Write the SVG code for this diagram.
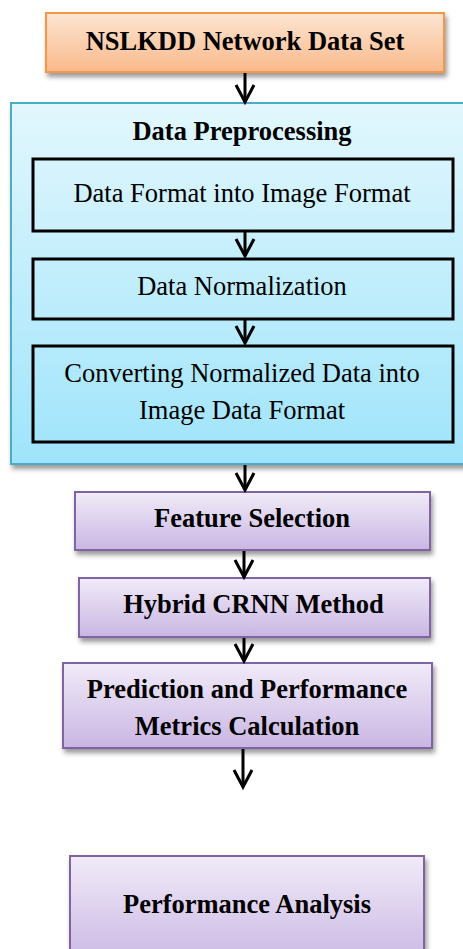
<svg xmlns="http://www.w3.org/2000/svg" width="463" height="949" viewBox="0 0 463 949">
<style>
.t{font-family:"Liberation Serif","Times New Roman",serif;font-size:26.5px;fill:#000;text-anchor:middle}
.b{font-weight:bold}
.inner{fill:none;stroke:#000;stroke-width:3}
.conn{stroke:#000;stroke-width:3;fill:none}
</style>
<defs>
<linearGradient id="gO" x1="0" y1="0" x2="0" y2="1"><stop offset="0" stop-color="#fde5d2"/><stop offset="1" stop-color="#f9b98b"/></linearGradient>
<linearGradient id="gB" x1="0" y1="0" x2="0" y2="1"><stop offset="0" stop-color="#e2f7fd"/><stop offset="1" stop-color="#9fe4fb"/></linearGradient>
<linearGradient id="gP" x1="0" y1="0" x2="0" y2="1"><stop offset="0" stop-color="#f1ebf8"/><stop offset="1" stop-color="#c9b6e3"/></linearGradient>
<filter id="sh" x="-10%" y="-10%" width="130%" height="140%"><feDropShadow dx="2" dy="4" stdDeviation="2.5" flood-color="#000" flood-opacity="0.4"/></filter>
<marker id="v" markerUnits="userSpaceOnUse" markerWidth="24" markerHeight="24" refX="19" refY="11" orient="auto" overflow="visible"><path d="M2,2 L19,11 L2,20" fill="none" stroke="#000" stroke-width="3"/></marker>
</defs>
<g id="nslkdd">
<rect x="46" y="13" width="398" height="59" fill="url(#gO)" stroke="#f79646" stroke-width="2" filter="url(#sh)"/>
<text class="t b" x="245" y="49.5">NSLKDD Network Data Set</text>
</g>
<g id="preprocessing">
<rect x="11" y="103" width="470" height="361" fill="url(#gB)" stroke="#4bacc6" stroke-width="2" filter="url(#sh)"/>
<text class="t b" x="242" y="140">Data Preprocessing</text>
</g>
<g id="format">
<rect class="inner" x="33" y="159" width="420" height="72"/>
<text class="t" x="242" y="201.5">Data Format into Image Format</text>
</g>
<g id="normalization">
<rect class="inner" x="33" y="259" width="420" height="60"/>
<text class="t" x="242" y="294.5">Data Normalization</text>
</g>
<g id="converting">
<rect class="inner" x="33" y="346" width="420" height="96"/>
<text class="t" x="242" y="382">Converting Normalized Data into</text>
<text class="t" x="242" y="419">Image Data Format</text>
</g>
<g id="feature">
<rect x="75" y="492" width="355" height="58" fill="url(#gP)" stroke="#8064a2" stroke-width="2" filter="url(#sh)"/>
<text class="t b" x="252" y="527">Feature Selection</text>
</g>
<g id="hybrid">
<rect x="79" y="578" width="351" height="59" fill="url(#gP)" stroke="#8064a2" stroke-width="2" filter="url(#sh)"/>
<text class="t b" x="253.5" y="613">Hybrid CRNN Method</text>
</g>
<g id="prediction">
<rect x="63" y="663" width="369" height="85" fill="url(#gP)" stroke="#8064a2" stroke-width="2" filter="url(#sh)"/>
<text class="t b" x="247" y="698">Prediction and Performance</text>
<text class="t b" x="247" y="735">Metrics Calculation</text>
</g>
<g id="performance">
<rect x="70" y="856" width="354" height="110" fill="url(#gP)" stroke="#8064a2" stroke-width="2" filter="url(#sh)"/>
<text class="t b" x="247" y="913">Performance Analysis</text>
</g>
<g id="connectors">
<line class="conn" x1="245" y1="73" x2="245" y2="102" marker-end="url(#v)"/>
<line class="conn" x1="245" y1="232" x2="245" y2="256" marker-end="url(#v)"/>
<line class="conn" x1="245" y1="320" x2="245" y2="343" marker-end="url(#v)"/>
<line class="conn" x1="245" y1="465" x2="245" y2="490" marker-end="url(#v)"/>
<line class="conn" x1="244" y1="551" x2="244" y2="577" marker-end="url(#v)"/>
<line class="conn" x1="244" y1="638" x2="244" y2="661" marker-end="url(#v)"/>
<line class="conn" x1="243" y1="749" x2="243" y2="787" marker-end="url(#v)"/>
</g>
</svg>
